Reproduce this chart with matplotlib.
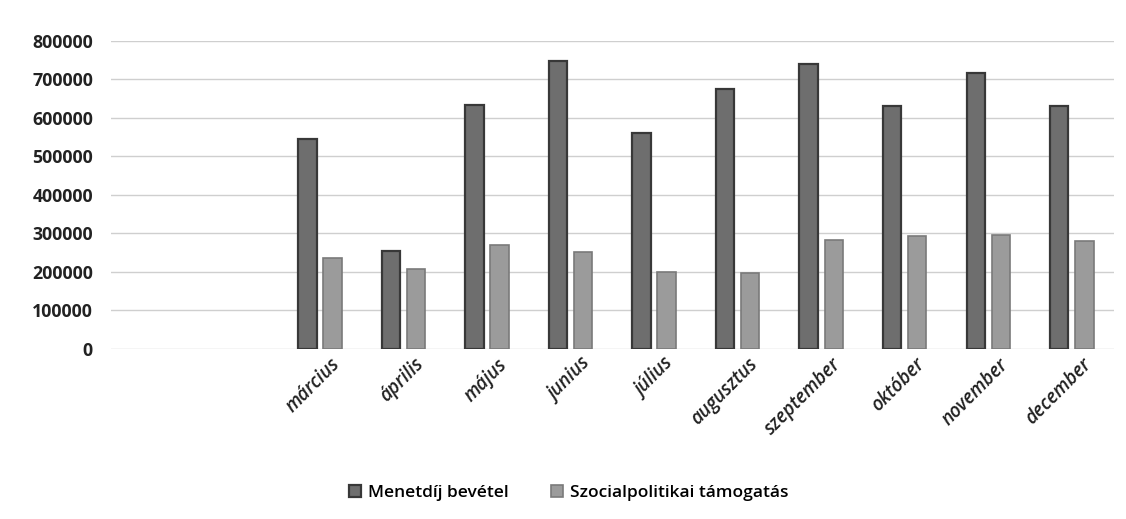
import numpy as np
import matplotlib
matplotlib.use('Agg')
import matplotlib.pyplot as plt

months = ['március', 'április', 'május', 'junius', 'július', 'augusztus',
          'szeptember', 'október', 'november', 'december']
menetdij = [545000, 255000, 635000, 748000, 560000, 675000, 740000, 632000, 718000, 632000]
szocpol = [237000, 209000, 270000, 251000, 199000, 197000, 284000, 294000, 296000, 280000]
yticks = [0, 100000, 200000, 300000, 400000, 500000, 600000, 700000, 800000]

plt.rcParams['font.family'] = ['Open Sans', 'DejaVu Sans']

fig = plt.figure(figsize=(11.26, 5.19), dpi=100)
ax = fig.add_axes([0.0986, 0.3276, 0.8904, 0.5934])

x = np.arange(len(months))
w = 0.22
ax.bar(x - 0.15, menetdij, w, color='#6e6e6e', edgecolor='#383838', linewidth=1.6,
       label='Menetdíj bevétel', zorder=3)
ax.bar(x + 0.15, szocpol, w, color='#9b9b9b', edgecolor='#7a7a7a', linewidth=1.2,
       label='Szocialpolitikai támogatás', zorder=3)

ax.set_xlim(-2.5, len(months) - 0.5)
ax.set_ylim(0, 800000)
ax.set_yticks(yticks)
ax.set_yticklabels([str(v) for v in yticks], fontsize=12.8, fontweight='bold', color='#222222')
ax.set_xticks(x + 0.12)
ax.set_xticklabels(months, rotation=45, ha='right', rotation_mode='anchor',
                   fontsize=13.5, fontweight='semibold', fontstyle='italic', color='#222222')
ax.tick_params(axis='y', length=0, pad=13)
ax.tick_params(axis='x', length=0, pad=4)
ax.grid(axis='y', color='#cfcfcf', linewidth=1.0, zorder=0)
for s in ax.spines.values():
    s.set_visible(False)

fig.legend(loc='center', bbox_to_anchor=(0.505, 0.05), ncol=2, frameon=False,
           handlelength=0.7, handleheight=0.7, columnspacing=2.4,
           handletextpad=0.4, prop={'weight': 'semibold', 'size': 12.5})

fig.savefig('out.png', dpi=100)
